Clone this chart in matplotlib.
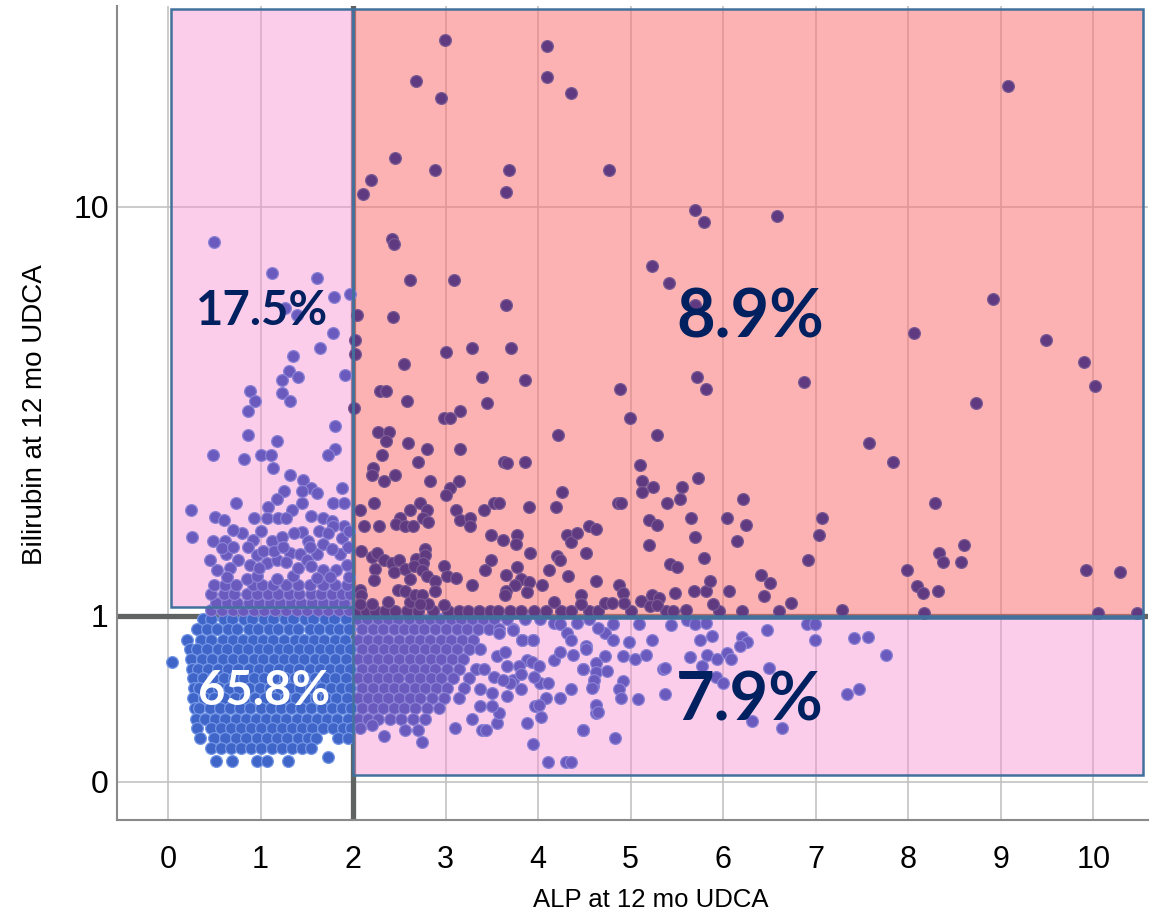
import numpy as np
import matplotlib.pyplot as plt
from matplotlib.patches import Rectangle

# ==================== Data ====================
x_ticks = list(range(11))
y_ticks = [0, 1, 10]
y_tick_labels = ['0', '1', '10']
x_title = 'ALP at 12 mo UDCA'
y_title = 'Bilirubin at 12 mo UDCA'

# quadrant boxes: (x0, y0, x1, y1)
ul_box = (0.03, 1.07, 2.0, 24.1)
ur_box = (2.0, 1.0, 10.54, 24.1)
lr_box = (2.0, 0.03, 10.54, 0.98)

# quadrant shares: label, x, y (baseline), size, colour
pct_text = [('17.5%', 1.02, 5.72, 34, '#002060'),
            ('8.9%', 6.29, 5.37, 48, '#002060'),
            ('65.8%', 1.04, 0.378, 34, 'white'),
            ('7.9%', 6.29, 0.29, 48, '#002060')]

# ALP < 2, bilirubin < 1 : dense blob read row by row
ll_row_y = [0.97, 0.89, 0.81, 0.74, 0.67, 0.60, 0.54, 0.48, 0.42, 0.36, 0.30, 0.25, 0.20, 0.15]
ll_row_x = [
    [0.38, 0.47, 0.60, 0.69, 0.82, 0.91, 1.04, 1.13, 1.26, 1.35, 1.48, 1.57, 1.70, 1.79, 1.92],
    [0.31, 0.42, 0.53, 0.65, 0.75, 0.87, 0.97, 1.09, 1.19, 1.31, 1.41, 1.53, 1.63, 1.75, 1.85, 1.96],
    [0.21, 0.36, 0.47, 0.59, 0.70, 0.81, 0.92, 1.03, 1.14, 1.25, 1.37, 1.47, 1.58, 1.69, 1.81, 1.91],
    [0.24, 0.31, 0.42, 0.54, 0.64, 0.76, 0.86, 0.98, 1.08, 1.20, 1.30, 1.42, 1.52, 1.64, 1.75, 1.86, 1.97],
    [0.25, 0.37, 0.48, 0.59, 0.70, 0.81, 0.93, 1.03, 1.15, 1.25, 1.36, 1.47, 1.59, 1.69, 1.80, 1.92],
    [0.26, 0.32, 0.43, 0.54, 0.65, 0.76, 0.87, 0.98, 1.09, 1.20, 1.31, 1.42, 1.53, 1.64, 1.75, 1.86, 1.97],
    [0.27, 0.38, 0.49, 0.60, 0.71, 0.82, 0.93, 1.04, 1.15, 1.26, 1.37, 1.48, 1.59, 1.70, 1.81, 1.92],
    [0.28, 0.33, 0.44, 0.55, 0.66, 0.77, 0.88, 0.99, 1.10, 1.21, 1.32, 1.43, 1.54, 1.65, 1.76, 1.87, 1.97],
    [0.27, 0.39, 0.50, 0.61, 0.72, 0.83, 0.94, 1.05, 1.16, 1.27, 1.38, 1.49, 1.60, 1.71, 1.82, 1.93],
    [0.29, 0.34, 0.45, 0.56, 0.67, 0.78, 0.89, 1.00, 1.11, 1.22, 1.33, 1.44, 1.55, 1.66, 1.77, 1.88, 1.98],
    [0.30, 0.40, 0.51, 0.62, 0.73, 0.84, 0.95, 1.06, 1.17, 1.28, 1.39, 1.50, 1.61, 1.72, 1.83, 1.94],
    [0.31, 0.46, 0.57, 0.68, 0.79, 0.90, 1.01, 1.12, 1.23, 1.34, 1.45, 1.56, 1.67, 1.78, 1.89, 1.98],
    [0.35, 0.50, 0.62, 0.73, 0.84, 0.96, 1.07, 1.18, 1.29, 1.40, 1.51, 1.60, 1.84, 1.95],
    [0.46, 0.57, 0.68, 0.79, 0.90, 1.01, 1.12, 1.23, 1.34, 1.45, 1.54],
]
ll_extra = [(0.04, 0.65), (0.52, 0.09), (0.69, 0.09), (0.96, 0.09), (1.07, 0.09),
            (1.30, 0.09), (1.73, 0.11)]

# ALP < 2, bilirubin > 1
ul_row_y = [1.05, 1.11, 1.19, 1.27]
ul_row_x = [
    [0.47, 0.58, 0.70, 0.81, 0.93, 1.04, 1.16, 1.27, 1.39, 1.50, 1.62, 1.73, 1.85, 1.96],
    [0.52, 0.64, 0.75, 0.87, 0.98, 1.10, 1.21, 1.33, 1.44, 1.56, 1.67, 1.79, 1.90],
    [0.46, 0.60, 0.71, 0.85, 0.96, 1.08, 1.19, 1.31, 1.42, 1.54, 1.65, 1.77, 1.88, 1.97],
    [0.50, 0.62, 0.74, 0.92, 1.02, 1.13, 1.27, 1.40, 1.53, 1.68, 1.81, 1.93],
]
ul_extra = [
    (0.50, 8.5), (1.12, 7.35), (1.61, 7.16), (1.79, 6.55), (1.97, 6.65), (1.26, 6.2),
    (1.39, 6.0), (1.78, 5.5), (1.64, 5.1), (1.35, 4.9), (1.31, 4.55), (1.23, 4.35),
    (1.40, 4.4), (1.91, 4.45), (0.89, 4.1), (0.94, 3.9), (0.86, 3.7), (1.23, 4.05),
    (1.32, 3.9), (1.81, 3.4), (0.86, 3.25), (1.18, 3.15), (1.81, 3.0), (1.73, 2.9),
    (0.49, 2.9), (0.82, 2.85), (1.00, 2.9), (1.11, 2.9), (1.13, 2.7), (1.32, 2.6),
    (1.46, 2.52), (1.54, 2.4), (1.61, 2.33), (1.45, 2.36), (1.25, 2.36), (1.18, 2.25),
    (1.08, 2.15), (1.88, 2.4), (0.25, 2.1), (0.74, 2.2), (1.45, 2.2), (1.34, 2.1),
    (1.78, 2.2), (1.90, 2.2), (0.51, 2.02), (0.60, 1.98), (0.93, 2.0), (1.07, 2.0),
    (1.19, 2.0), (1.28, 2.0), (1.55, 2.03), (1.68, 2.0), (1.77, 1.97), (1.90, 1.9),
    (1.78, 1.9), (0.26, 1.77), (0.49, 1.73), (0.62, 1.73), (0.80, 1.82), (0.92, 1.74),
    (1.12, 1.73), (1.23, 1.77), (1.45, 1.84), (1.51, 1.73), (1.63, 1.85), (1.73, 1.82),
    (1.88, 1.76), (0.63, 1.59), (0.76, 1.52), (0.96, 1.57), (1.03, 1.62), (1.32, 1.60),
    (1.43, 1.59), (1.61, 1.59), (1.68, 1.70), (1.86, 1.59), (0.45, 1.52), (0.53, 1.42),
    (0.67, 1.44), (0.89, 1.47), (1.07, 1.49), (1.18, 1.52), (1.28, 1.50), (1.50, 1.52),
    (1.54, 1.46), (1.68, 1.42), (1.82, 1.42), (1.93, 1.47), (0.85, 1.33), (0.96, 1.36),
    (1.18, 1.33), (1.35, 1.36), (1.61, 1.34), (1.75, 1.35), (0.58, 1.65), (0.70, 1.66),
    (0.86, 1.66), (1.15, 1.62), (1.24, 1.66), (1.53, 1.66), (1.77, 1.64), (1.95, 1.66),
    (0.98, 1.44), (1.40, 1.44), (1.00, 1.85), (1.36, 1.82), (1.96, 1.85), (0.70, 1.86),
    (0.64, 1.35), (1.96, 1.35),
]

# ALP > 2, bilirubin < 1
lr_row_y = [0.97, 0.89, 0.81, 0.74, 0.67, 0.60, 0.54, 0.48, 0.42, 0.36, 0.30]
lr_row_x = [
    [2.05, 2.15, 2.27, 2.38, 2.49, 2.60, 2.72, 2.83, 2.94, 3.06, 3.17, 3.29, 3.40, 3.52, 3.66, 3.86, 4.02],
    [2.10, 2.21, 2.32, 2.44, 2.55, 2.66, 2.77, 2.89, 3.00, 3.12, 3.23, 3.35, 3.47, 3.58, 3.73],
    [2.05, 2.16, 2.27, 2.38, 2.50, 2.61, 2.72, 2.83, 2.95, 3.06, 3.18, 3.30, 3.83, 3.94],
    [2.10, 2.21, 2.33, 2.44, 2.55, 2.66, 2.78, 2.89, 3.00, 3.12, 3.25, 3.37],
    [2.05, 2.16, 2.27, 2.38, 2.50, 2.61, 2.72, 2.84, 2.95, 3.07, 3.19],
    [2.10, 2.21, 2.32, 2.44, 2.55, 2.66, 2.78, 2.89, 3.01, 3.14, 3.33],
    [2.05, 2.16, 2.27, 2.38, 2.49, 2.61, 2.72, 2.84, 2.95, 3.08, 3.25],
    [2.10, 2.21, 2.33, 2.44, 2.55, 2.67, 2.78, 2.90, 3.02, 3.20],
    [2.05, 2.16, 2.27, 2.38, 2.50, 2.61, 2.72, 2.85, 2.98, 3.15],
    [2.10, 2.21, 2.32, 2.44, 2.55, 2.67, 2.80, 2.93],
    [2.05, 2.16, 2.27, 2.40, 2.52, 2.65, 2.78],
]
lr_extra = [
    (4.17, 0.94), (4.24, 0.93), (4.31, 0.86), (4.42, 0.94), (4.36, 0.81), (3.88, 0.66),
    (3.93, 0.65), (4.01, 0.62), (4.17, 0.66), (4.24, 0.72), (4.38, 0.70), (4.48, 0.60),
    (4.52, 0.76), (3.73, 0.53), (3.79, 0.62), (3.70, 0.51), (4.02, 0.51), (4.11, 0.51),
    (4.09, 0.42), (4.24, 0.42), (4.35, 0.47), (4.03, 0.31), (3.97, 0.37), (4.01, 0.38),
    (4.48, 0.24), (4.59, 0.49), (4.62, 0.37), (4.63, 0.33), (3.10, 0.25), (2.74, 0.18),
    (2.33, 0.21), (2.56, 0.24), (2.70, 0.24), (2.08, 0.25), (2.20, 0.27), (3.28, 0.30),
    (3.39, 0.24), (3.44, 0.24), (3.55, 0.28), (3.58, 0.33), (3.88, 0.28), (3.94, 0.17),
    (4.11, 0.086), (4.30, 0.086), (4.35, 0.086), (3.41, 0.60), (3.52, 0.55), (3.62, 0.53),
    (3.55, 0.69), (3.64, 0.72), (3.37, 0.47), (3.50, 0.45), (3.66, 0.43), (3.81, 0.47),
    (3.50, 0.37), (3.37, 0.37), (3.66, 0.62), (3.81, 0.57), (3.95, 0.55), (3.58, 0.86),
    (3.73, 0.88), (3.83, 0.81), (3.94, 0.81), (4.81, 0.93), (4.72, 0.86), (4.81, 0.81),
    (4.98, 0.79), (5.09, 0.93), (5.23, 0.81), (5.44, 0.92), (5.61, 0.96), (5.70, 0.93),
    (5.81, 0.94), (5.75, 0.81), (5.88, 0.84), (6.20, 0.83), (6.26, 0.79), (6.47, 0.88),
    (6.91, 0.93), (6.99, 0.93), (6.99, 0.81), (7.41, 0.82), (7.56, 0.83), (7.76, 0.70),
    (4.52, 0.74), (4.72, 0.69), (4.92, 0.69), (5.05, 0.67), (5.16, 0.70), (5.35, 0.60),
    (5.64, 0.68), (5.82, 0.70), (5.93, 0.67), (6.04, 0.71), (6.08, 0.67), (6.18, 0.76),
    (4.49, 0.60), (4.63, 0.64), (4.63, 0.58), (4.74, 0.59), (4.60, 0.53), (4.58, 0.48),
    (4.92, 0.52), (4.87, 0.47), (4.89, 0.42), (5.08, 0.41), (5.37, 0.61), (5.37, 0.44),
    (5.77, 0.62), (5.92, 0.55), (6.00, 0.51), (6.49, 0.61), (7.34, 0.44), (7.47, 0.47),
    (4.62, 0.38), (4.65, 0.34), (4.49, 0.24), (4.83, 0.20), (6.31, 0.29), (6.63, 0.25),
    (4.55, 0.97), (4.65, 0.90),
]

# ALP > 2, bilirubin > 1
ur_row_y = [1.04]
ur_row_x = [[2.05, 2.14, 2.24, 2.35, 2.45, 2.58, 2.70, 2.86, 3.03, 3.15, 3.24, 3.36, 3.48,
             3.57, 3.70, 3.82, 3.96, 4.08, 4.25, 4.35, 4.55, 4.65, 5.00, 5.38, 5.95, 6.20, 6.60]]
ur_extra = [
    (2.99, 21.0), (2.68, 17.6), (2.95, 16.3), (4.10, 20.5), (4.10, 17.9), (4.35, 16.7),
    (2.45, 12.5), (2.88, 11.8), (2.19, 11.3), (2.11, 10.6), (3.69, 11.8), (3.65, 10.7),
    (2.42, 8.6), (2.44, 8.4), (2.62, 7.1), (3.09, 7.1), (3.65, 6.3), (2.04, 6.0),
    (2.43, 5.95), (4.77, 11.8), (5.70, 9.85), (5.79, 9.3), (6.58, 9.6), (5.23, 7.6),
    (5.41, 7.0), (5.70, 6.3), (9.08, 17.2), (8.91, 6.5), (8.06, 5.5), (9.49, 5.3),
    (9.90, 4.75), (10.02, 4.2), (8.73, 3.85), (7.58, 3.1), (7.83, 2.8), (8.29, 2.2),
    (8.60, 1.68), (8.33, 1.6), (8.37, 1.5), (8.57, 1.5), (7.99, 1.42), (8.09, 1.26),
    (8.16, 1.2), (8.32, 1.22), (9.92, 1.42), (10.29, 1.4), (7.28, 1.05), (8.17, 1.02),
    (10.05, 1.02), (10.47, 1.02),
    (2.02, 5.3), (2.02, 4.95), (3.00, 5.0), (3.28, 5.1), (3.71, 5.1), (2.55, 4.7),
    (3.39, 4.4), (3.86, 4.35), (2.29, 4.1), (2.36, 4.1), (2.58, 3.9), (3.45, 3.85),
    (2.01, 3.75), (2.98, 3.55), (3.05, 3.55), (3.16, 3.7), (2.27, 3.3), (2.39, 3.3),
    (2.36, 3.15), (2.59, 3.1), (2.80, 3.0), (3.16, 3.0), (4.21, 3.25), (2.31, 2.9),
    (2.70, 2.8), (3.63, 2.8), (3.66, 2.78), (3.86, 2.8), (2.22, 2.7), (2.20, 2.6),
    (2.45, 2.6), (2.33, 2.5), (2.83, 2.5), (3.14, 2.5), (3.05, 2.4), (3.00, 2.3),
    (4.26, 2.35), (2.23, 2.2), (2.72, 2.2), (3.52, 2.2), (3.58, 2.2), (2.08, 2.1),
    (2.62, 2.1), (2.80, 2.1), (3.11, 2.1), (3.41, 2.1), (3.90, 2.15), (4.19, 2.15),
    (2.76, 2.0), (2.81, 1.96), (3.16, 1.98), (3.26, 2.0), (3.26, 1.9), (2.51, 2.0),
    (2.46, 1.93), (2.56, 1.9), (2.65, 1.9), (2.12, 1.9), (2.28, 1.9), (3.49, 1.8),
    (3.62, 1.74), (3.77, 1.8), (3.76, 1.7), (3.91, 1.6), (4.31, 1.8), (4.35, 1.72),
    (4.42, 1.82), (4.55, 1.9), (4.62, 1.87), (4.52, 1.6), (2.09, 1.62), (2.20, 1.55),
    (2.26, 1.6), (2.33, 1.52), (2.42, 1.49), (2.50, 1.52), (2.68, 1.53), (2.78, 1.64),
    (2.78, 1.57), (2.76, 1.49), (2.24, 1.43), (2.44, 1.40), (2.56, 1.43), (2.66, 1.46),
    (2.75, 1.42), (2.62, 1.33), (2.23, 1.32), (2.80, 1.36), (2.89, 1.31), (2.98, 1.46),
    (3.01, 1.36), (3.11, 1.34), (3.29, 1.27), (3.43, 1.42), (3.49, 1.52), (3.65, 1.37),
    (3.77, 1.45), (3.81, 1.33), (3.90, 1.30), (3.75, 1.27), (3.88, 1.21), (3.65, 1.22),
    (3.64, 1.18), (4.04, 1.27), (4.12, 1.42), (4.20, 1.56), (4.24, 1.52), (4.32, 1.36),
    (4.17, 1.12), (4.46, 1.18), (4.46, 1.10), (4.63, 1.31), (2.08, 1.23), (2.09, 1.18),
    (2.08, 1.10), (2.20, 1.10), (2.38, 1.12), (2.49, 1.23), (2.56, 1.22), (2.61, 1.12),
    (2.67, 1.18), (2.75, 1.18), (2.81, 1.10), (2.72, 1.10), (2.88, 1.22), (2.98, 1.09),
    (4.88, 4.15), (4.99, 3.55), (5.28, 3.25), (5.72, 4.4), (5.81, 4.15), (6.87, 4.3),
    (5.10, 2.75), (5.12, 2.5), (5.12, 2.35), (5.24, 2.42), (5.55, 2.42), (5.53, 2.25),
    (5.39, 2.2), (5.73, 2.55), (6.21, 2.25), (4.86, 2.2), (4.90, 2.2), (5.65, 2.0),
    (6.04, 2.0), (6.25, 1.92), (7.07, 2.0), (7.03, 1.8), (5.20, 1.98), (5.28, 1.92),
    (5.70, 1.78), (6.15, 1.73), (5.20, 1.68), (5.79, 1.54), (5.43, 1.48), (5.50, 1.45),
    (6.92, 1.52), (4.87, 1.27), (4.92, 1.20), (4.93, 1.11), (4.72, 1.11), (4.80, 1.11),
    (5.11, 1.13), (5.23, 1.18), (5.31, 1.15), (5.21, 1.08), (5.28, 1.09), (5.48, 1.20),
    (5.68, 1.22), (5.81, 1.22), (5.86, 1.31), (5.89, 1.10), (5.60, 1.05), (5.46, 1.04),
    (6.06, 1.22), (6.41, 1.37), (6.51, 1.29), (6.44, 1.17), (6.73, 1.11),
]


def collect(rows_y, rows_x, extra):
    xs = [x for y, row in zip(rows_y, rows_x) for x in row] + [p[0] for p in extra]
    ys = [y for y, row in zip(rows_y, rows_x) for _ in row] + [p[1] for p in extra]
    return np.array(xs), np.array(ys)


ll_x, ll_y = collect(ll_row_y, ll_row_x, ll_extra)
ul_x, ul_y = collect(ul_row_y, ul_row_x, ul_extra)
lr_x, lr_y = collect(lr_row_y, lr_row_x, lr_extra)
ur_x, ur_y = collect(ur_row_y, ur_row_x, ur_extra)

# ==================== Plot ====================
fig = plt.figure(figsize=(11.58, 9.17), dpi=100)
ax = fig.add_axes([117 / 1158, 97 / 917, 1031 / 1158, 814 / 917])


def fwd(y):
    return np.log10(np.clip(1 + np.asarray(y, dtype=float), 1e-6, None))


def inv(v):
    return 10 ** np.asarray(v, dtype=float) - 1


ax.set_yscale('function', functions=(fwd, inv))
ax.set_xlim(-0.551, 10.59)
ax.set_ylim(-0.147, 24.4)

# grid and reference lines
ax.set_xticks(x_ticks)
ax.set_yticks(y_ticks)
ax.set_yticklabels(y_tick_labels)
ax.minorticks_off()
ax.grid(True, color='#c2c2c2', lw=1.2, zorder=0)
ax.set_axisbelow(True)
ax.axhline(1, color='#5f6462', lw=3.8, zorder=1)
ax.axvline(2, color='#5f6462', lw=3.8, zorder=1)

# translucent quadrant fills
fills = [(ul_box, '#fa92d2', 0.45), (ur_box, '#fb7373', 0.55), (lr_box, '#fa92d2', 0.45)]
for (x0, y0, x1, y1), col, a in fills:
    ax.add_patch(Rectangle((x0, y0), x1 - x0, y1 - y0, facecolor=col, alpha=a,
                           edgecolor='none', zorder=2))

# points
dot = dict(s=72, linewidths=0.9, zorder=3)
ax.scatter(ll_x, ll_y, c='#4065c8', edgecolors='#7396e6', **dot)
ax.scatter(ul_x, ul_y, c='#6a5abd', edgecolors='#8b82d6', **dot)
ax.scatter(lr_x, lr_y, c='#6a5abd', edgecolors='#8b82d6', **dot)
ax.scatter(ur_x, ur_y, c='#603a80', edgecolors='#7a5a94', **dot)

# box outlines
for x0, y0, x1, y1 in (ul_box, ur_box, lr_box):
    ax.add_patch(Rectangle((x0, y0), x1 - x0, y1 - y0, fill=False,
                           edgecolor='#41719c', lw=1.8, zorder=4))

for label, tx, ty, size, col in pct_text:
    ax.text(tx, ty, label, ha='center', va='baseline', fontsize=size,
            fontweight='bold', color=col, family='Lato', zorder=6)

# axes styling
for side in ('top', 'right'):
    ax.spines[side].set_visible(False)
for side in ('left', 'bottom'):
    ax.spines[side].set_color('#8a8a8a')
    ax.spines[side].set_linewidth(1.5)
ax.tick_params(axis='both', length=0)
ax.tick_params(axis='x', pad=18)
ax.tick_params(axis='y', pad=6)
for t in ax.get_xticklabels():
    t.set_family('Liberation Sans')
    t.set_fontsize(22)
for t in ax.get_yticklabels():
    t.set_family('Liberation Sans')
    t.set_fontsize(23)

fig.text(651 / 1158, 1 - 900 / 917, x_title, ha='center', va='center', fontsize=18.5,
         family='Liberation Sans')
fig.text(35 / 1158, 1 - 415 / 917, y_title, ha='center', va='center', rotation=90,
         fontsize=20, family='Liberation Sans')

fig.savefig('out.png', dpi=100)
